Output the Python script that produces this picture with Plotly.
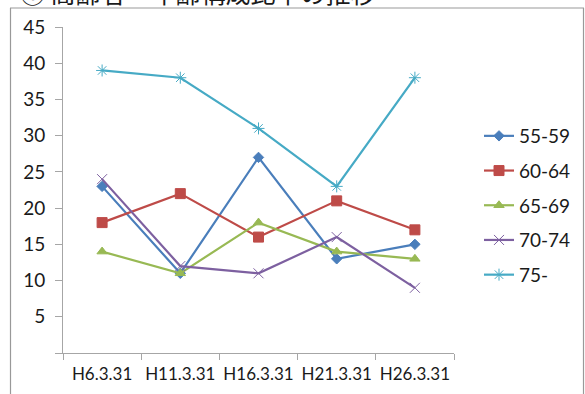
import plotly.graph_objects as go

categories = ["H6.3.31", "H11.3.31", "H16.3.31", "H21.3.31", "H26.3.31"]
series_names = ["55-59", "60-64", "65-69", "70-74", "75-"]
s55_59 = [23, 11, 27, 13, 15]
s60_64 = [18, 22, 16, 21, 17]
s65_69 = [14, 11, 18, 14, 13]
s70_74 = [24, 12, 11, 16, 9]
s75 = [39, 38, 31, 23, 38]
y_ticks = [0, 5, 10, 15, 20, 25, 30, 35, 40, 45]
y_tick_labels = ["", "5", "10", "15", "20", "25", "30", "35", "40", "45"]

colors = ["#4A7EBB", "#BE4B48", "#98B954", "#7D60A0", "#46AAC5"]
symbols = ["diamond", "square", "triangle-up", "x-thin-open", "asterisk-open"]
sizes = [8, 10, 9, 10, 10]
values = [s55_59, s60_64, s65_69, s70_74, s75]

FONT = "Lato, 'Noto Sans CJK JP', sans-serif"

fig = go.Figure()
for i, (name, vals, c, sym, sz) in enumerate(zip(series_names, values, colors, symbols, sizes)):
    fig.add_trace(go.Scatter(
        x=categories, y=vals, name=name, mode="lines+markers",
        legendgroup=f"g{i}",
        line=dict(color=c, width=2.2),
        marker=dict(symbol=sym, size=sz, color=c, line=dict(color=c, width=1)),
    ))

# body margin is removed by post_script, so positions are screen pixels
W, H = 585, 394
plot_l, plot_r, plot_t, plot_b = 63, 454, 27, 353
L = plot_l
T = plot_t
R = W - plot_r
B = H - plot_b
pw, ph = W - L - R, H - T - B

def px(x):
    return (x - L) / pw

def py(y):
    return (H - B - y) / ph

fig.update_layout(
    width=W, height=H,
    margin=dict(l=L, r=R, t=T, b=B, pad=0, autoexpand=False),
    paper_bgcolor="white", plot_bgcolor="white",
    font=dict(family=FONT, size=16, color="#1a1a1a"),
    showlegend=True,
    legend=dict(
        x=px(479), y=py(117), xanchor="left", yanchor="top",
        font=dict(size=19, color="#1a1a1a"),
        itemwidth=30, tracegroupgap=7,
        bgcolor="rgba(0,0,0,0)",
    ),
    xaxis=dict(
        type="category", range=[-0.5, 4.5],
        showline=True, linecolor="#A6A6A6", linewidth=1,
        ticks="outside", ticklen=6, tickcolor="#A6A6A6", tickson="boundaries",
        showgrid=False, zeroline=False, tickangle=0,
        tickfont=dict(size=17, family=FONT, color="#1a1a1a"),
        ticklabelstandoff=6,
    ),
    yaxis=dict(
        range=[0, 45], tickvals=y_ticks, ticktext=y_tick_labels,
        showline=True, linecolor="#A6A6A6", linewidth=1,
        ticks="outside", ticklen=7, tickcolor="#A6A6A6",
        showgrid=False, zeroline=False,
        tickfont=dict(size=19, family=FONT, color="#1a1a1a"),
        ticklabelstandoff=6,
    ),
    shapes=[
        dict(type="line", xref="paper", yref="paper",
             x0=px(10), x1=px(584), y0=py(8), y1=py(8),
             line=dict(color="#999999", width=1.2)),
        dict(type="line", xref="paper", yref="paper",
             x0=px(10.5), x1=px(10.5), y0=py(8), y1=py(400),
             line=dict(color="#999999", width=1.2)),
        dict(type="line", xref="paper", yref="paper",
             x0=px(583.5), x1=px(583.5), y0=py(8), y1=py(400),
             line=dict(color="#999999", width=1.2)),
    ],
    annotations=[
        dict(text="① 高齢者　年齢構成比率の推移", xref="paper", yref="paper",
             x=px(18), y=py(-8), xanchor="left", yanchor="middle", showarrow=False,
             font=dict(size=25, family="'Noto Sans CJK JP', sans-serif", color="#1a1a1a")),
    ],
)

fig.write_html("out.html", config={"displayModeBar": False},
               post_script="document.body.style.margin='0px';")
